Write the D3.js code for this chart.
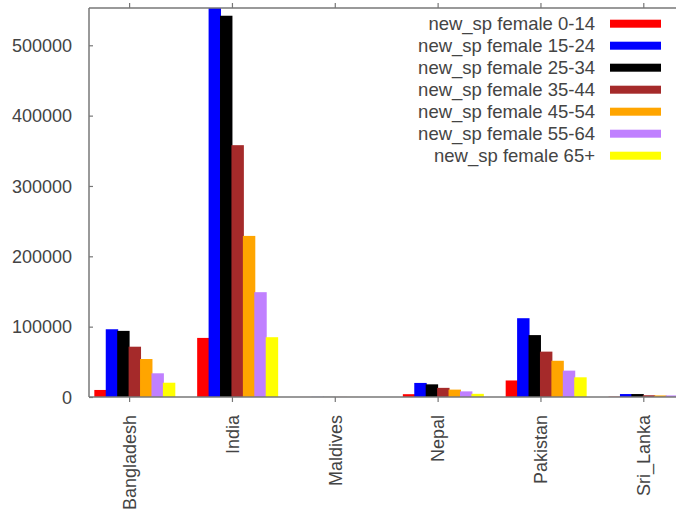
<!DOCTYPE html>
<html>
<head>
<meta charset="utf-8">
<script src="https://cdn.jsdelivr.net/npm/d3@7"></script>
<style>
  html, body { margin: 0; padding: 0; background: #fff; overflow: hidden; }
  svg { display: block; }
  text { font-family: "Liberation Sans", Arial, sans-serif; fill: #333; }
</style>
</head>
<body>
<svg id="chart" width="676" height="512"></svg>
<script>
// ---- data ----
const countries = ["Bangladesh", "India", "Maldives", "Nepal", "Pakistan", "Sri_Lanka"];
const seriesNames = [
  "new_sp female 0-14",
  "new_sp female 15-24",
  "new_sp female 25-34",
  "new_sp female 35-44",
  "new_sp female 45-54",
  "new_sp female 55-64",
  "new_sp female 65+"
];
const seriesColors = ["#ff0000", "#0000ff", "#000000", "#a52a2a", "#ffa500", "#c080ff", "#ffff00"];
// values per series, in order of countries
const f0014 = [10000, 84000, 50, 4000, 23500, 400];
const f1524 = [96300, 600000, 150, 20000, 112000, 4200];
const f2534 = [94000, 542000, 150, 18000, 88000, 4200];
const f3544 = [71500, 358000, 100, 13000, 64500, 2500];
const f4554 = [54000, 229000, 80, 10500, 51500, 2200];
const f5564 = [33700, 149000, 60, 8000, 37500, 2200];
const f65p  = [20300, 85000, 40, 4500, 28000, 1500];
const seriesValues = [f0014, f1524, f2534, f3544, f4554, f5564, f65p];
const yTicks = [0, 100000, 200000, 300000, 400000, 500000];
const yMax = 553000;

// ---- layout ----
const svg = d3.select("#chart");
const pLeft = 89, pTop = 8, pBottom = 397, pRight = 705;

const x = d3.scaleLinear().domain([-0.39, 5.6]).range([pLeft, pRight]);
const y = d3.scaleLinear().domain([0, yMax]).range([pBottom, pTop]);
const nS = seriesNames.length;
const slot = (x(1) - x(0)) / (nS + 2);

svg.append("defs").append("clipPath").attr("id", "plotclip")
  .append("rect").attr("x", pLeft).attr("y", pTop).attr("width", pRight - pLeft).attr("height", pBottom - pTop);

// bars
const plot = svg.append("g").attr("clip-path", "url(#plotclip)");
seriesValues.forEach((vals, j) => {
  plot.selectAll(null).data(vals).enter().append("rect")
    .attr("x", (d, i) => x(i) + (j - 3) * slot - 0.5)
    .attr("width", slot + 1)
    .attr("y", d => y(d))
    .attr("height", d => y(0) - y(d))
    .attr("fill", seriesColors[j]);
});

// border lines
const axisColor = "#777";
svg.append("line").attr("x1", pLeft).attr("x2", 676).attr("y1", pBottom).attr("y2", pBottom)
  .attr("stroke", axisColor).attr("stroke-width", 1.5);
svg.append("line").attr("x1", pLeft).attr("x2", 676).attr("y1", pTop).attr("y2", pTop)
  .attr("stroke", axisColor).attr("stroke-width", 1.5);
svg.append("line").attr("x1", pLeft).attr("x2", pLeft).attr("y1", pTop).attr("y2", pBottom)
  .attr("stroke", axisColor).attr("stroke-width", 1.5);

// y axis (ticks inward)
const yAxis = d3.axisRight(y).tickValues(yTicks).tickSize(4).tickFormat(d => d);
const yg = svg.append("g").attr("transform", `translate(${pLeft},0)`).call(yAxis);
yg.select(".domain").remove();
yg.selectAll(".tick line").attr("stroke", axisColor).attr("stroke-width", 1.2);
yg.selectAll(".tick text")
  .attr("x", -17).attr("text-anchor", "end").attr("dy", "0.35em")
  .style("font-size", "18px").style("fill", "#444");

// x axis bottom (ticks outward)
const xAxis = d3.axisBottom(x).tickValues(d3.range(countries.length)).tickSize(5)
  .tickFormat(i => countries[i]);
const xg = svg.append("g").attr("transform", `translate(0,${pBottom})`).call(xAxis);
xg.select(".domain").remove();
xg.selectAll(".tick line").attr("stroke", axisColor).attr("stroke-width", 1.2);
xg.selectAll(".tick text")
  .attr("transform", "rotate(-90)")
  .attr("x", -18).attr("y", 0).attr("dy", "0.35em")
  .attr("text-anchor", "end")
  .style("font-size", "18px").style("fill", "#444");

// mirrored top ticks (outward)
const xTop = d3.axisTop(x).tickValues(d3.range(countries.length)).tickSize(5).tickFormat("");
const xtg = svg.append("g").attr("transform", `translate(0,${pTop})`).call(xTop);
xtg.select(".domain").remove();
xtg.selectAll(".tick line").attr("stroke", axisColor).attr("stroke-width", 1.2);

// legend
const legend = svg.append("g");
const legTextRight = 595, swX = 610, swW = 51, swH = 8, row0 = 23.7, rowH = 22;
seriesNames.forEach((name, j) => {
  const cy = row0 + j * rowH;
  legend.append("text").attr("x", legTextRight).attr("y", cy).attr("dy", "0.35em")
    .attr("text-anchor", "end").style("font-size", "18.5px").style("fill", "#444").text(name);
  legend.append("rect").attr("x", swX).attr("y", cy - swH / 2).attr("width", swW).attr("height", swH)
    .attr("fill", seriesColors[j]);
});
</script>
</body>
</html>
